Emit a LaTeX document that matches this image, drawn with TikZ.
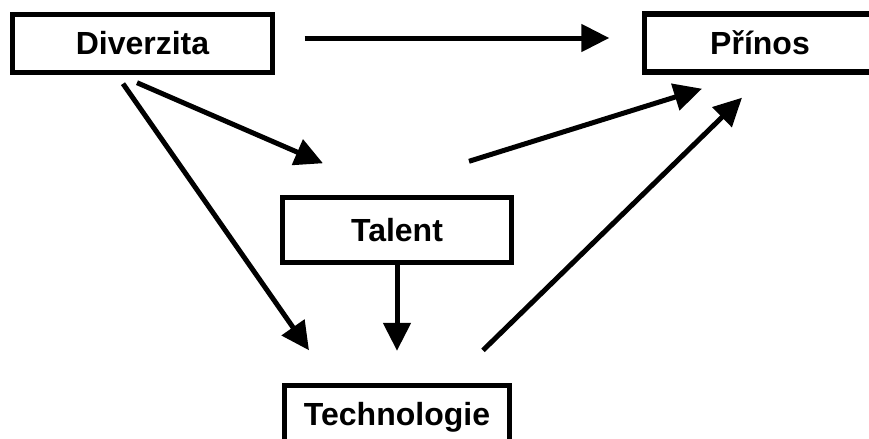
\documentclass[tikz,border=0pt]{standalone}
\usepackage{fontspec}
\setmainfont{Liberation Sans}
\usepackage{tikz}
\usetikzlibrary{arrows.meta, positioning, calc}
\tikzset{
  block/.style={rectangle, draw=black, fill=white, line width=2.7pt,
                inner sep=0pt, align=center, font=\fontsize{16}{19}\selectfont\bfseries},
  arr/.style={-{Triangle[length=14pt, width=13.5pt]}, draw=black, line width=2.5pt},
}

\begin{document}
\begin{tikzpicture}[x=0.5pt, y=-0.5pt]
  \clip (0,0) rectangle (869,439);
  \fill[white] (0,0) rectangle (869,439);

  \node[block, minimum width=130pt, minimum height=29pt]   (div) at (142.5,43.5) {Diverzita};
  \node[block, minimum width=115.5pt, minimum height=29pt] (pri) at (760,43)     {Přínos};
  \node[block, minimum width=114.5pt, minimum height=32.5pt] (tal) at (397,230)  {Talent};
  \node[block, minimum width=112.5pt, minimum height=31.5pt] (tec) at (397,417)  {Technologie};

  \draw[arr] ($(div.east)+(29.5,-5.5)$) -- ($(pri.west)+(-32.5,-5)$);
  \draw[arr] ($(div.south)+(-5.5,7.5)$) -- ($(tal.north)+(-74,-31.5)$);
  \draw[arr] ($(div.south)+(-19.5,8.5)$) -- ($(tec.north)+(-88,-32.5)$);
  \draw[arr, shorten >=16pt] (tal.south) -- (tec.north);
  \draw[arr] ($(tal.north)+(72,-33.5)$) -- ($(pri.south)+(-58,14)$);
  \draw[arr] ($(tec.north)+(86,-32.5)$) -- ($(pri.south)+(-18,23)$);
\end{tikzpicture}
\end{document}
